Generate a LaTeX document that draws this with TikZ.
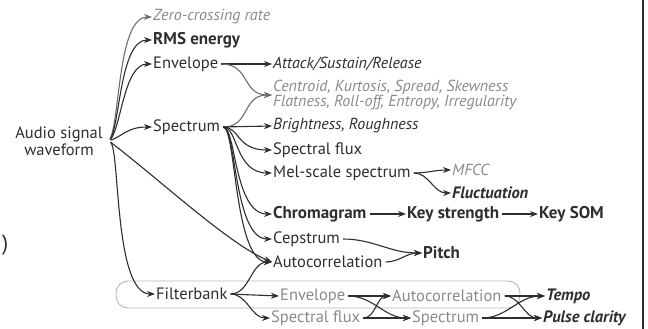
\documentclass[tikz,border=0pt]{standalone}
\usepackage{fontspec}
\setmainfont{PT Sans}
\usepackage{tikz}
\usetikzlibrary{arrows.meta,positioning}
\definecolor{ink}{HTML}{2E2E2E}
\definecolor{gry}{HTML}{8A8A8A}
\definecolor{gryln}{HTML}{6E6E6E}
\definecolor{framec}{HTML}{B4B4B4}
\tikzset{
  ft/.style={anchor=west, inner sep=1pt, text=ink, font=\fontsize{16.5}{15.5}\selectfont},
  ftg/.style={ft, text=gry},
  fti/.style={ft, font=\fontsize{16}{15.5}\selectfont\itshape},
  ftgi/.style={ft, text=gry, font=\fontsize{16}{15.5}\selectfont\itshape},
  ftb/.style={ft, font=\fontsize{17}{15.5}\selectfont\bfseries},
  ftbi/.style={ft, font=\fontsize{16.5}{15.5}\selectfont\bfseries\itshape},
  fl/.style={-{Stealth[length=8pt,width=6pt]}, line width=1.1pt, draw=ink, shorten <=2pt},
  flg/.style={fl, draw=gryln},
}
\begin{document}
\begin{tikzpicture}[x=1pt, y=-1pt]
  \useasboundingbox (0,0) rectangle (648,329);
  % filterbank group and page edge
  \draw[framec, line width=0.9pt, rounded corners=12pt] (116,281) rectangle (520,308);
  \draw[ink, line width=1.3pt] (643,0) -- (643,329);
  \node[ft, font=\fontsize{22}{22}\selectfont] (paren) at (1,245) {)};
  % source
  \node[ft, anchor=center, align=center, font=\fontsize{16.5}{17}\selectfont] (wave) at (59,141) {Audio signal\\waveform};
  \coordinate (split) at (109,141);
  % first column
  \node[ftgi] (zcr) at (152,17) {Zero-crossing rate};
  \node[ftb] (rms) at (152,40) {RMS energy};
  \node[ft] (env) at (152,64) {Envelope};
  \node[ft] (spec) at (152,127) {Spectrum};
  \node[ft] (filt) at (155,294) {Filterbank};
  % second column
  \node[fti] (ats) at (272,64) {Attack/Sustain/Release};
  \node[ftgi, align=left] (cent) at (272,95) {Centroid, Kurtosis, Spread, Skewness\\Flatness, Roll-off, Entropy, Irregularity};
  \node[fti] (bright) at (272,126) {Brightness, Roughness};
  \node[ft] (sflux) at (272,150) {Spectral flux};
  \node[ft] (mel) at (272,173) {Mel-scale spectrum};
  \node[ftb] (chroma) at (272,214) {Chromagram};
  \node[ft] (ceps) at (272,239) {Cepstrum};
  \node[ft] (autoc) at (272,262) {Autocorrelation};
  \node[ftg] (fenv) at (279,296) {Envelope};
  \node[ftg] (fsflux) at (270,318) {Spectral flux};
  % third column
  \node[ftgi] (mfcc) at (451,170) {MFCC};
  \node[ftbi] (fluct) at (451,193) {Fluctuation};
  \node[ftb] (keys) at (406,214) {Key strength};
  \node[ftb] (ksom) at (538,214) {Key SOM};
  \node[ftb] (pitch) at (422,253) {Pitch};
  \node[ftg] (fautoc) at (391,296) {Autocorrelation};
  \node[ftg] (fspec) at (411,318) {Spectrum};
  \node[ftbi] (tempo) at (545,296) {Tempo};
  \node[ftbi] (pulse) at (542,318) {Pulse clarity};
  % from waveform
  \draw[flg] (split) .. controls (120,120) and (118,17) .. (zcr.west);
  \draw[fl] (split) .. controls (120,125) and (120,40) .. (rms.west);
  \draw[fl] (split) .. controls (121,128) and (124,64) .. (env.west);
  \draw[fl] (split) .. controls (124,135) and (128,127) .. (spec.west);
  \draw[fl] (split) .. controls (160,180) and (230,245) .. (autoc.west);
  \draw[fl] (split) .. controls (120,150) and (114,294) .. (filt.west);
  % envelope and spectrum
  \draw[fl] (env.east) -- (ats.west);
  \draw[flg] (env.east) .. controls (250,64) and (242,95) .. (cent.west);
  \draw[flg] (spec.east) .. controls (250,127) and (242,95) .. (cent.west);
  \draw[fl] (spec.east) -- (bright.west);
  \draw[fl] (spec.east) .. controls (240,127) and (236,150) .. (sflux.west);
  \draw[fl] (spec.east) .. controls (238,127) and (235,173) .. (mel.west);
  \draw[fl] (spec.east) .. controls (236,127) and (234,214) .. (chroma.west);
  \draw[fl] (spec.east) .. controls (236,127) and (234,239) .. (ceps.west);
  \draw[fl] (spec.east) .. controls (236,127) and (234,262) .. (autoc.west);
  % further descriptors
  \draw[fl] (mel.east) to[out=0, in=180] (mfcc.west);
  \draw[fl] (mel.east) to[out=0, in=180] (fluct.west);
  \draw[fl] (chroma.east) -- (keys.west);
  \draw[fl] (keys.east) -- (ksom.west);
  \draw[fl] (ceps.east) to[out=0, in=180] (pitch.west);
  \draw[fl] (autoc.east) to[out=0, in=180] (pitch.west);
  % filterbank branch
  \draw[fl] (filt.east) -- (fenv.west);
  \draw[fl] (filt.east) to[out=0, in=180] (autoc.west);
  \draw[fl] (filt.east) to[out=0, in=180] (fsflux.west);
  \draw[fl] (fenv.east) -- (fautoc.west);
  \draw[fl] (fenv.east) to[out=0, in=180] (fspec.west);
  \draw[fl] (fsflux.east) -- (fspec.west);
  \draw[fl] (fsflux.east) to[out=0, in=180] (fautoc.west);
  \draw[fl] (fautoc.east) -- (tempo.west);
  \draw[fl] (fautoc.east) to[out=0, in=180] (pulse.west);
  \draw[fl] (fspec.east) -- (pulse.west);
  \draw[fl] (fspec.east) to[out=0, in=180] (tempo.west);
\end{tikzpicture}
\end{document}
